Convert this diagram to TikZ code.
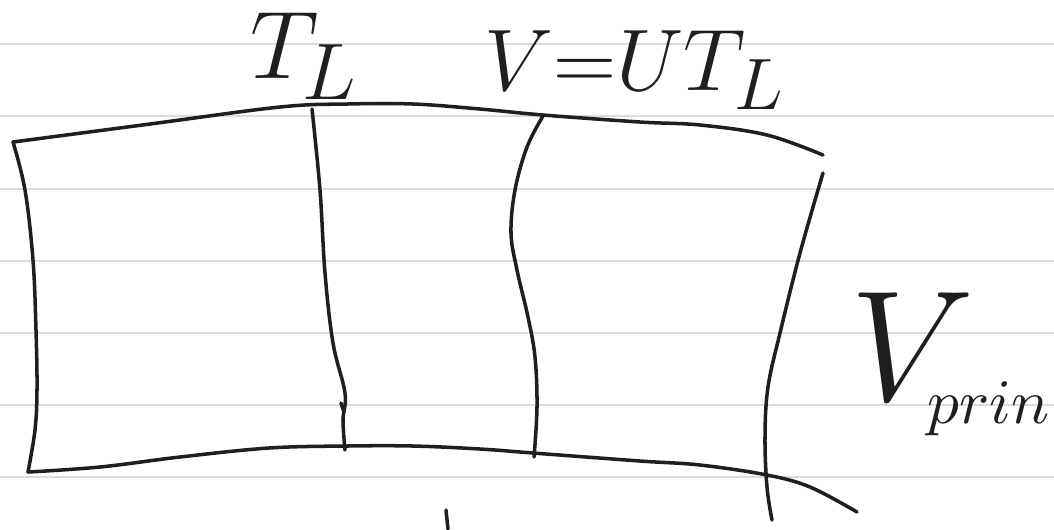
\documentclass[tikz,border=0pt]{standalone}
\usepackage{amsmath}
\usetikzlibrary{calc}
\begin{document}
\begin{tikzpicture}[x=0.01cm, y=-0.01cm, line join=round, line cap=round,
  ink/.style={line width=1.0pt, black!88},
  rule/.style={line width=0.8pt, black!14},
  hand/.style={inner sep=0pt, text=black!88, anchor=base west, font=\Huge}]
  \useasboundingbox[fill=white] (0,0) rectangle (1054,529);

  % ruled paper
  \foreach \y in {44,116,189,261,333,405,477}
    \draw[rule] (0,\y) -- (1054,\y);

  % corners of the strip
  \coordinate (TL) at (13,142);   % top-left
  \coordinate (TR) at (823,155);  % top-right (open end)
  \coordinate (BL) at (28,472);   % bottom-left
  \coordinate (BR) at (857,512);  % bottom-right (open end)

  % upper and lower boundaries
  \draw[ink] plot[smooth, tension=0.6] coordinates
    {(TL) (150,124) (280,107) (347,104) (413,104) (480,109) (543,115)
     (640,122) (700,125) (767,135) (TR)};
  \draw[ink] plot[smooth, tension=0.6] coordinates
    {(BL) (100,467) (180,457) (269,448) (347,446) (413,446) (480,449)
     (533,453) (640,461) (700,465) (767,475) (810,487) (BR)};

  % left edge
  \draw[ink] plot[smooth, tension=0.6] coordinates
    {(TL) (25,190) (33,260) (36,330) (37,390) (35,430) (BL)};

  % slice at T_L
  \draw[ink] plot[smooth, tension=0.6] coordinates
    {(312,109) (320,190) (325,273) (333,343) (345,393) (343,420) (345,450)};
  \draw[ink] (341,403) -- (344,412);

  % slice at V = U T_L
  \draw[ink] plot[smooth, tension=0.6] coordinates
    {(543,116) (527,147) (515,190) (511,233) (517,270) (528,317)
     (535,357) (537,407) (534,457)};

  % right edge
  \draw[ink] plot[smooth, tension=0.6] coordinates
    {(823,173) (800,253) (780,333) (768,387) (765,437) (767,487) (772,520)};

  % short mark below
  \draw[ink] (446,510) -- (448,529);

  % labels
  \node[hand, scale=1.1] (tlab) at (250,78) {$T_{\kern-1pt L}$};
  \node[hand] (vlab) at (484,90) {$V{=}UT_L$};
  \node[hand, scale=1.8] (vprin) at (849,400)
    {$V_{\kern-2pt\mbox{\normalsize$prin$}}$};
\end{tikzpicture}
\end{document}
